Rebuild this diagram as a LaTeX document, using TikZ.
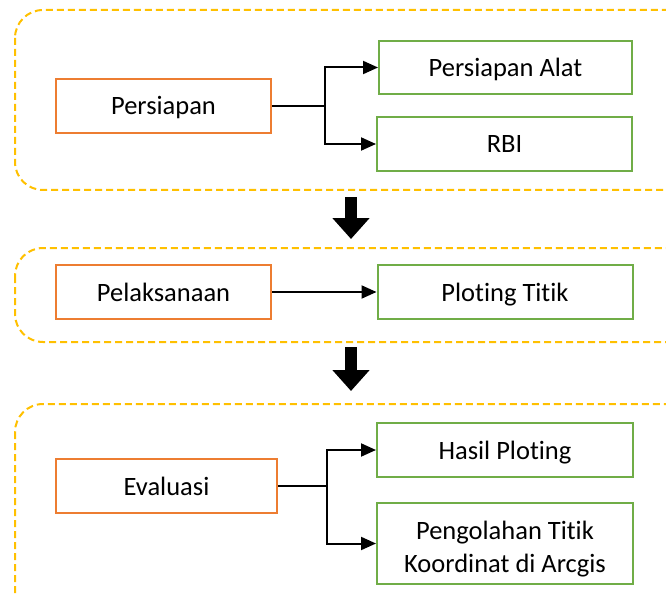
\documentclass[tikz,border=0pt]{standalone}
\usepackage{fontspec}
\setmainfont{Carlito}[Ligatures=NoCommon]
\usetikzlibrary{arrows.meta}
\definecolor{grpcol}{HTML}{FFC000}
\definecolor{orgcol}{HTML}{ED7D31}
\definecolor{grncol}{HTML}{70AD47}
\begin{document}
\begin{tikzpicture}[x=1pt,y=-1pt,
  grp/.style={draw=grpcol, line width=2pt, dash pattern=on 7pt off 4pt, rounded corners=28pt},
  mainbox/.style={draw=orgcol, line width=2pt, fill=white, inner sep=0pt, minimum width=215pt, minimum height=54pt, text height=22pt, text depth=4pt, font=\fontsize{26.5}{32}\selectfont},
  subbox/.style={draw=grncol, line width=2pt, fill=white, inner sep=0pt, minimum width=255pt, minimum height=54pt, text height=22pt, text depth=4pt, font=\fontsize{26.5}{32}\selectfont, align=center},
  conn/.style={draw=black, line width=2pt},
  arr/.style={conn, -{Triangle[length=15pt,width=13pt]}},
  bigarr/.style={line width=12pt, -{Triangle[length=21pt,width=36pt]}}
]
\useasboundingbox (0,0) rectangle (666,596);
\clip (0,0) rectangle (666,596);
% groups
\draw[grp] (15,10) rectangle (700,190);
\draw[grp] (15,248) rectangle (700,342);
\draw[grp] (15,404) rectangle (700,640);
\coordinate (g1b) at (351,197);
\coordinate (g2t) at (351,239);
\coordinate (g2b) at (351,347);
\coordinate (g3t) at (351,391);
% nodes
\node[mainbox] (persiapan) at (163.5,106) {Persiapan};
\node[subbox, minimum width=253pt, minimum height=53pt] (alat) at (505.5,67.5) {Persiapan Alat};
\node[subbox] (rbi) at (504.5,144) {RBI};
\node[mainbox] (pelak) at (163.5,292) {Pelaksanaan};
\node[subbox] (ploting) at (505,292) {Ploting Titik};
\node[mainbox, minimum width=221pt] (eval) at (166.5,486) {Evaluasi};
\node[subbox, minimum width=256pt] (hasil) at (505,450) {Hasil Ploting};
\node[subbox, minimum width=256pt, minimum height=81pt, text height=59pt, text depth=2pt] (olah) at (505,543.5) {Pengolahan Titik\\[1pt]Koordinat di Arcgis};
% connectors
\coordinate (j1) at (325,106);
\draw[conn] (persiapan.east) -- (j1);
\draw[arr] (j1) |- (alat.west);
\draw[arr] (j1) |- (rbi.west);
\draw[arr] (pelak.east) -- (ploting.west);
\coordinate (j3) at (327,486);
\draw[conn] (eval.east) -- (j3);
\draw[arr] (j3) |- (hasil.west);
\draw[arr] (j3) |- (olah.west);
% big arrows
\draw[bigarr] (g1b) -- (g2t);
\draw[bigarr] (g2b) -- (g3t);
\end{tikzpicture}
\end{document}
